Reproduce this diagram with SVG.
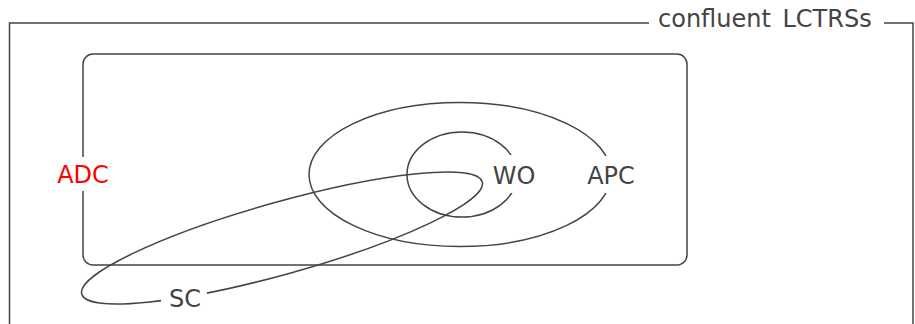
<svg xmlns="http://www.w3.org/2000/svg" width="915" height="324" viewBox="0 0 915 324">
  <style>
    .line { fill: none; stroke: #444; stroke-width: 1.5; }
    .lbl { font-family: "DejaVu Sans", "Liberation Sans", sans-serif; font-size: 24px; fill: #444; text-anchor: middle; }
    .bg { fill: #fff; stroke: none; }
  </style>

  <!-- outer frame: confluent LCTRSs -->
  <g id="lctrs">
    <path class="line" d="M9.5,330 V23 H913 V330"/>
    <rect class="bg" x="649" y="8" width="235" height="28"/>
    <text class="lbl" x="658" y="27" style="text-anchor:start" word-spacing="4">confluent LCTRSs</text>
  </g>

  <!-- ADC: rounded box -->
  <g id="adc">
    <rect class="line" x="83" y="54" width="604" height="211" rx="10" ry="10"/>
    <rect class="bg" x="55" y="157" width="56" height="34"/>
    <text class="lbl" x="83" y="183" style="fill:#ff0000">ADC</text>
  </g>

  <!-- APC -->
  <g id="apc">
    <ellipse class="line" cx="460" cy="174.5" rx="151" ry="72"/>
    <rect class="bg" x="584" y="156" width="54" height="37"/>
    <text class="lbl" x="611" y="184">APC</text>
  </g>

  <!-- WO -->
  <g id="wo">
    <ellipse class="line" cx="462" cy="174.5" rx="55" ry="42.5"/>
    <rect class="bg" x="490" y="155" width="48" height="38"/>
    <text class="lbl" x="514" y="184">WO</text>
  </g>

  <!-- SC: slanted ellipse -->
  <g id="sc">
    <ellipse class="line" cx="282" cy="238" rx="208" ry="36" transform="rotate(-15.64 282 238)"/>
    <rect class="bg" x="161" y="286" width="46" height="24"/>
    <text class="lbl" x="185" y="307">SC</text>
  </g>
</svg>
